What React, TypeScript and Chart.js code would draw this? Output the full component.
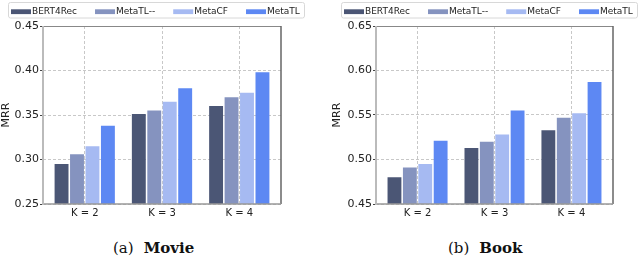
import React, { useEffect, useRef } from "react";
import { Chart, registerables } from "chart.js";

Chart.register(...registerables);

const categories = ["K = 2", "K = 3", "K = 4"];
const seriesNames = ["BERT4Rec", "MetaTL--", "MetaCF", "MetaTL"];
const seriesColors = ["#4b5675", "#8593bf", "#a6baf2", "#5d88f3"];

const movieBERT4Rec = [0.295, 0.351, 0.36];
const movieMetaTLminus = [0.306, 0.355, 0.37];
const movieMetaCF = [0.315, 0.365, 0.375];
const movieMetaTL = [0.338, 0.38, 0.398];
const movieTicks = [0.25, 0.3, 0.35, 0.4, 0.45];

const bookBERT4Rec = [0.48, 0.513, 0.533];
const bookMetaTLminus = [0.491, 0.52, 0.547];
const bookMetaCF = [0.495, 0.528, 0.552];
const bookMetaTL = [0.521, 0.555, 0.587];
const bookTicks = [0.45, 0.5, 0.55, 0.6, 0.65];

const SANS = "'DejaVu Sans', sans-serif";

const framePlugin = {
  id: "frame",
  afterDatasetsDraw(chart: any) {
    const { ctx, chartArea: a } = chart;
    ctx.save();
    ctx.setLineDash([]);
    // top
    ctx.strokeStyle = "#888";
    ctx.lineWidth = 1;
    ctx.beginPath();
    ctx.moveTo(a.left, a.top + 0.5);
    ctx.lineTo(a.right, a.top + 0.5);
    ctx.stroke();
    // right
    ctx.strokeStyle = "#666";
    ctx.lineWidth = 1.5;
    ctx.beginPath();
    ctx.moveTo(a.right, a.top);
    ctx.lineTo(a.right, a.bottom);
    ctx.stroke();
    // bottom
    ctx.strokeStyle = "#999";
    ctx.lineWidth = 1.5;
    ctx.beginPath();
    ctx.moveTo(a.left, a.bottom);
    ctx.lineTo(a.right, a.bottom);
    ctx.stroke();
    // left
    ctx.strokeStyle = "#bbb";
    ctx.lineWidth = 2;
    ctx.beginPath();
    ctx.moveTo(a.left, a.top);
    ctx.lineTo(a.left, a.bottom + 1);
    ctx.stroke();
    ctx.restore();
  },
};

function makeLegendPlugin(x0: number) {
  return {
    id: "boxLegend",
    afterDraw(chart: any) {
      const { ctx } = chart;
      ctx.save();
      ctx.setLineDash([]);
      ctx.fillStyle = "#fff";
      ctx.strokeStyle = "#d8d8d8";
      ctx.lineWidth = 1;
      ctx.beginPath();
      ctx.roundRect(x0 + 0.5, 2.5, 296, 15.5, 2);
      ctx.fill();
      ctx.stroke();
      ctx.font = `9px ${SANS}`;
      ctx.textBaseline = "alphabetic";
      let x = x0 + 3;
      chart.data.datasets.forEach((ds: any) => {
        ctx.fillStyle = ds.backgroundColor;
        ctx.fillRect(x, 9.3, 20, 4.8);
        ctx.fillStyle = "#222";
        ctx.fillText(ds.label, x + 21, 14);
        x += 21 + ctx.measureText(ds.label).width + 18;
      });
      ctx.restore();
    },
  };
}

type Layout = { padLeft: number; yWidth: number; padRight: number; legendX: number };

function makeConfig(series: number[][], yTicks: number[], lay: Layout): any {
  return {
    type: "bar",
    data: {
      datasets: series.map((vals, k) => ({
        label: seriesNames[k],
        backgroundColor: seriesColors[k],
        borderWidth: 0,
        data: vals.map((y, i) => ({ x: i, y })),
        categoryPercentage: 0.8,
        barPercentage: 0.9,
      })),
    },
    options: {
      responsive: false,
      animation: false,
      devicePixelRatio: 1,
      layout: { padding: { left: lay.padLeft, right: lay.padRight, top: 26, bottom: 0 } },
      plugins: { legend: { display: false }, tooltip: { enabled: false } },
      scales: {
        x: {
          type: "linear",
          min: -0.54,
          max: 2.54,
          offset: false,
          afterBuildTicks: (s: any) => {
            s.ticks = categories.map((_, i) => ({ value: i }));
          },
          afterFit: (s: any) => {
            s.height = 21;
          },
          grid: { offset: false, color: "#c8c8c8", lineWidth: 1, drawTicks: false },
          border: { display: false, dash: [3, 2] },
          ticks: {
            autoSkip: false,
            maxRotation: 0,
            padding: 3,
            color: "#222",
            font: { family: SANS, size: 10 },
            callback: (v: any) => categories[Math.round(Number(v))] ?? "",
          },
        },
        y: {
          type: "linear",
          min: yTicks[0],
          max: yTicks[yTicks.length - 1],
          afterBuildTicks: (s: any) => {
            s.ticks = yTicks.map((v) => ({ value: v }));
          },
          afterFit: (s: any) => {
            s.width = lay.yWidth;
          },
          grid: { color: "#c8c8c8", lineWidth: 1, drawTicks: true, tickLength: 3, tickColor: "#444" },
          border: { display: false, dash: [3, 2] },
          ticks: {
            padding: 1,
            color: "#222",
            font: { family: SANS, size: 11 },
            callback: (v: any) => Number(v).toFixed(2),
          },
          title: {
            display: true,
            text: "MRR",
            color: "#222",
            padding: 0,
            font: { family: SANS, size: 11 },
          },
        },
      },
    },
    plugins: [framePlugin, makeLegendPlugin(lay.legendX)],
  };
}

function BarPanel(props: { series: number[][]; yTicks: number[]; lay: Layout; left: number }) {
  const ref = useRef<HTMLCanvasElement | null>(null);
  useEffect(() => {
    if (!ref.current) return;
    const chart = new Chart(ref.current, makeConfig(props.series, props.yTicks, props.lay));
    return () => chart.destroy();
  }, []);
  return (
    <canvas
      ref={ref}
      width={320}
      height={225}
      style={{ position: "absolute", left: props.left, top: 0, width: 320, height: 225, display: "block" }}
    />
  );
}

const captionStyle: React.CSSProperties = {
  position: "absolute",
  top: 240,
  fontFamily: "'DejaVu Serif', serif",
  fontSize: 15,
  lineHeight: "17px",
  color: "#111",
  whiteSpace: "nowrap",
};

export default function App() {
  return (
    <div style={{ position: "absolute", left: 0, top: 0, width: 640, height: 258, background: "#fff", overflow: "hidden" }}>
      <BarPanel
        left={0}
        series={[movieBERT4Rec, movieMetaTLminus, movieMetaCF, movieMetaTL]}
        yTicks={movieTicks}
        lay={{ padLeft: 0, yWidth: 43, padRight: 39, legendX: 8 }}
      />
      <BarPanel
        left={320}
        series={[bookBERT4Rec, bookMetaTLminus, bookMetaCF, bookMetaTL]}
        yTicks={bookTicks}
        lay={{ padLeft: 11, yWidth: 45, padRight: 27, legendX: 21 }}
      />
      <div style={{ ...captionStyle, left: 113 }}>
        (a)<b style={{ marginLeft: 10 }}>Movie</b>
      </div>
      <div style={{ ...captionStyle, left: 448 }}>
        (b)<b style={{ marginLeft: 10 }}>Book</b>
      </div>
    </div>
  );
}
